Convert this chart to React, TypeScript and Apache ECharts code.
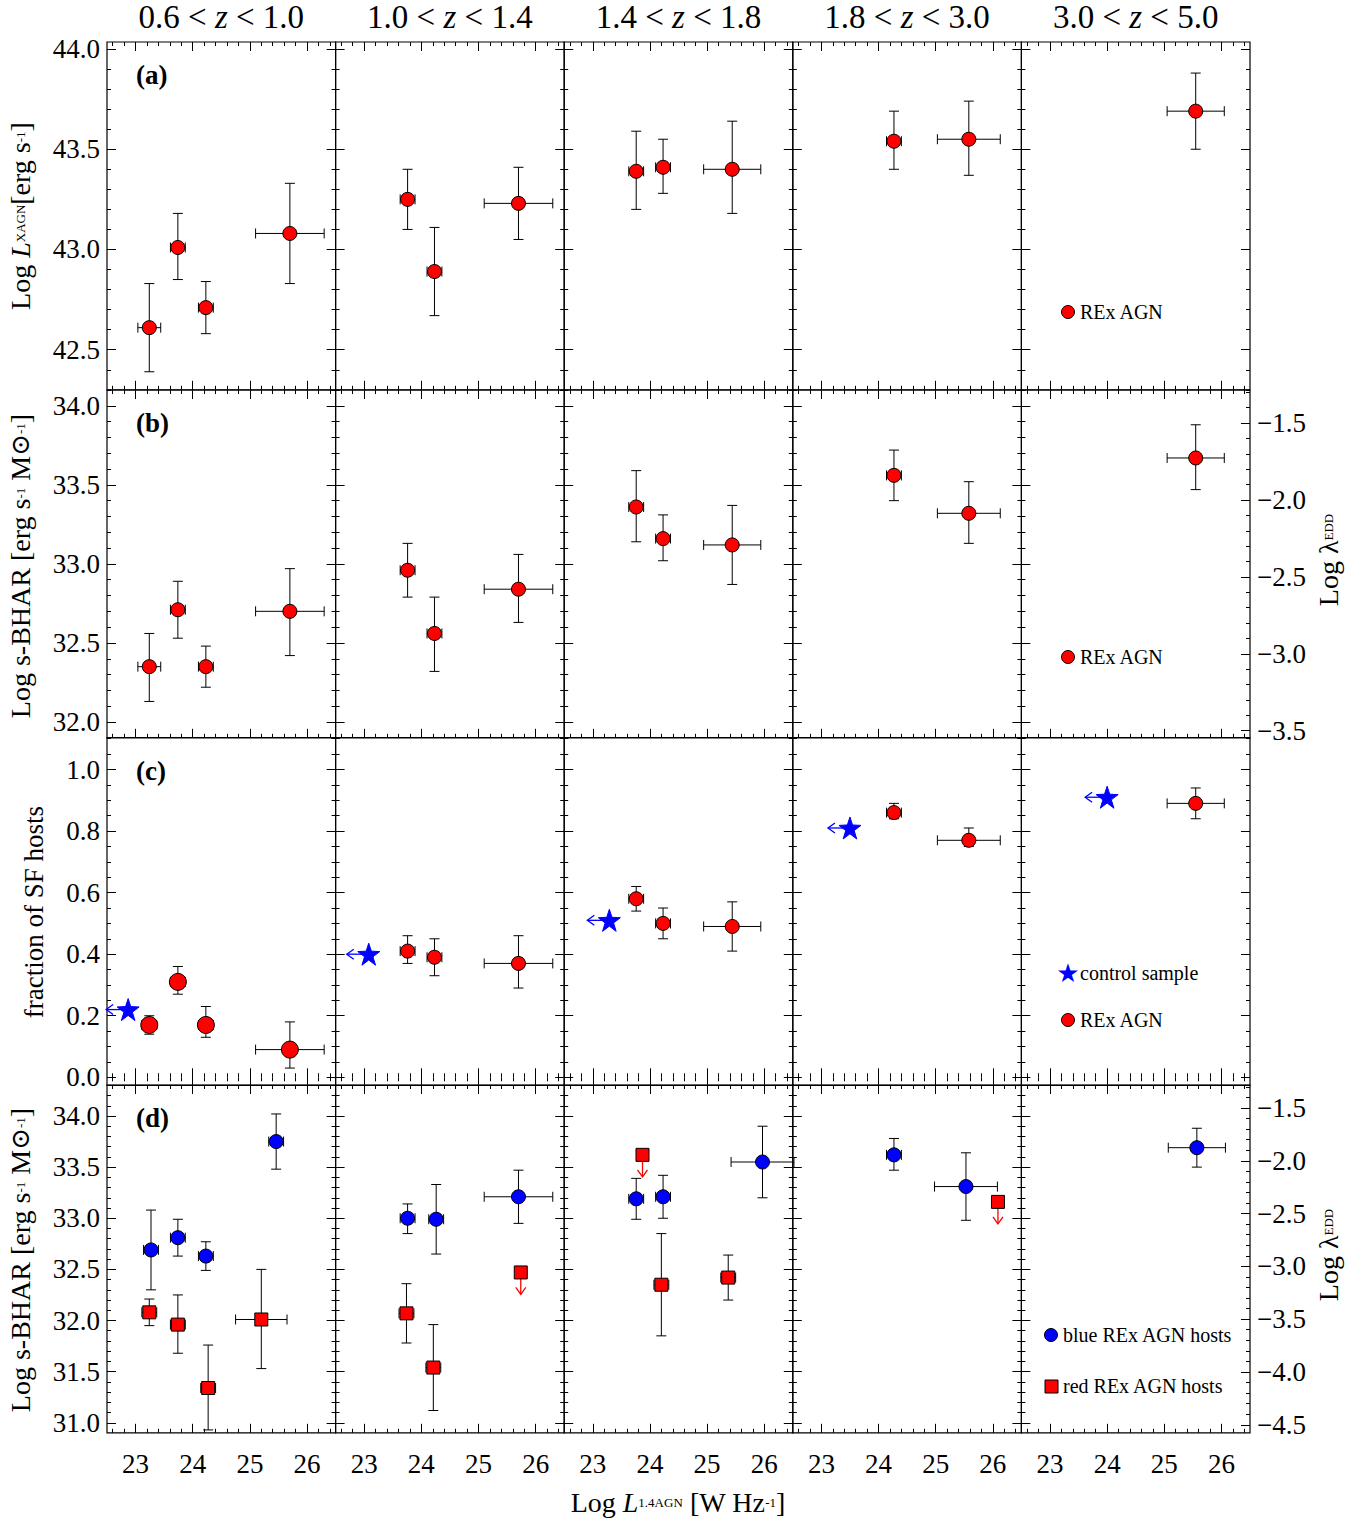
import React, { useEffect, useRef } from 'react';
import * as echarts from 'echarts';

// [col, x, y, xerr, ylo, yhi]
const rowARed = [
    [0, 23.24, 42.61, 0.2, 42.39, 42.83], [0, 23.74, 43.01, 0.13, 42.85, 43.18], [0, 24.23, 42.71, 0.13, 42.58, 42.84], [0, 25.7, 43.08, 0.6, 42.83, 43.33],
    [1, 23.76, 43.25, 0.13, 43.1, 43.4], [1, 24.23, 42.89, 0.13, 42.67, 43.11], [1, 25.7, 43.23, 0.6, 43.05, 43.41],
    [2, 23.76, 43.39, 0.13, 43.2, 43.59], [2, 24.23, 43.41, 0.13, 43.28, 43.55], [2, 25.44, 43.4, 0.5, 43.18, 43.64],
    [3, 24.27, 43.54, 0.13, 43.4, 43.69], [3, 25.58, 43.55, 0.55, 43.37, 43.74],
    [4, 25.55, 43.69, 0.5, 43.5, 43.88],
];
const rowBRed = [
    [0, 23.24, 32.35, 0.2, 32.13, 32.56], [0, 23.74, 32.71, 0.13, 32.53, 32.89], [0, 24.23, 32.35, 0.13, 32.22, 32.48], [0, 25.7, 32.7, 0.6, 32.42, 32.97],
    [1, 23.76, 32.96, 0.13, 32.79, 33.13], [1, 24.23, 32.56, 0.13, 32.32, 32.79], [1, 25.7, 32.84, 0.6, 32.63, 33.06],
    [2, 23.76, 33.36, 0.13, 33.14, 33.59], [2, 24.23, 33.16, 0.13, 33.02, 33.31], [2, 25.44, 33.12, 0.5, 32.87, 33.37],
    [3, 24.27, 33.56, 0.13, 33.4, 33.72], [3, 25.58, 33.32, 0.55, 33.13, 33.52],
    [4, 25.55, 33.67, 0.5, 33.47, 33.88],
];
const rowCRed = [
    [0, 23.24, 0.17, 0.13, 0.14, 0.2], [0, 23.74, 0.31, 0.13, 0.27, 0.36], [0, 24.23, 0.17, 0.13, 0.13, 0.23], [0, 25.7, 0.09, 0.6, 0.03, 0.18],
    [1, 23.76, 0.41, 0.13, 0.37, 0.46], [1, 24.23, 0.39, 0.13, 0.33, 0.45], [1, 25.7, 0.37, 0.6, 0.29, 0.46],
    [2, 23.76, 0.58, 0.13, 0.54, 0.62], [2, 24.23, 0.5, 0.13, 0.45, 0.55], [2, 25.44, 0.49, 0.5, 0.41, 0.57],
    [3, 24.27, 0.86, 0.13, 0.84, 0.89], [3, 25.58, 0.77, 0.55, 0.75, 0.81],
    [4, 25.55, 0.89, 0.5, 0.84, 0.94],
];
// [col, x, y]
const rowCStars = [[0, 22.87, 0.22], [1, 23.08, 0.4], [2, 23.29, 0.51], [3, 23.5, 0.81], [4, 24.0, 0.91]];
const rowDBlue = [
    [0, 23.27, 32.69, 0.13, 32.3, 33.08], [0, 23.74, 32.81, 0.13, 32.63, 32.99], [0, 24.23, 32.63, 0.13, 32.49, 32.77], [0, 25.46, 33.75, 0.13, 33.48, 34.02],
    [1, 23.76, 33.0, 0.13, 32.85, 33.14], [1, 24.26, 32.99, 0.13, 32.65, 33.33], [1, 25.7, 33.21, 0.6, 32.95, 33.47],
    [2, 23.76, 33.19, 0.13, 32.99, 33.39], [2, 24.23, 33.21, 0.13, 33.0, 33.42], [2, 25.97, 33.55, 0.55, 33.2, 33.9],
    [3, 24.27, 33.62, 0.13, 33.47, 33.78], [3, 25.53, 33.31, 0.55, 32.98, 33.64],
    [4, 25.57, 33.69, 0.5, 33.5, 33.88],
];
const rowDRed = [
    [0, 23.24, 32.08, 0.13, 31.95, 32.21], [0, 23.74, 31.96, 0.13, 31.68, 32.25], [0, 24.27, 31.34, 0.13, 30.93, 31.76], [0, 25.2, 32.01, 0.45, 31.53, 32.5],
    [1, 23.74, 32.07, 0.13, 31.78, 32.36], [1, 24.21, 31.54, 0.13, 31.12, 31.96],
    [2, 24.2, 32.35, 0.13, 31.85, 32.85], [2, 25.37, 32.42, 0.13, 32.2, 32.64],
];
// upper limits [col, x, y]
const rowDRedLimits = [[1, 25.74, 32.47], [2, 23.87, 33.62], [3, 26.09, 33.16]];

const colTitles = [['0.6', '1.0'], ['1.0', '1.4'], ['1.4', '1.8'], ['1.8', '3.0'], ['3.0', '5.0']];
const xTicks = [23, 24, 25, 26];
const rowRanges = [[42.3, 44.035], [31.9, 34.1], [-0.026, 1.104], [30.902, 34.303]];
const rowMajor = [[42.5, 43.0, 43.5, 44.0], [32.0, 32.5, 33.0, 33.5, 34.0], [0, 0.2, 0.4, 0.6, 0.8, 1.0], [31, 31.5, 32, 32.5, 33, 33.5, 34]];
const rowMinorStep = [0.1, 0.1, 0.05, 0.1];
const eddRanges = [null, [-3.546, -1.285], null, [-4.576, -1.282]];
const eddTicks = [null, [-3.5, -3.0, -2.5, -2.0, -1.5], null, [-4.5, -4.0, -3.5, -3.0, -2.5, -2.0, -1.5]];

const FONT = '"Liberation Serif", "DejaVu Serif", serif';
const STAR = 'path://M50,0 L61.8,36.2 L100,38.2 L69.1,61.8 L80.9,100 L50,76.4 L19.1,100 L30.9,61.8 L0,38.2 L38.2,36.2 Z';

const L0 = 107, CW = 228.6, RH = 347.8;
const tops = [42, 390, 737.5, 1085];

function range(a: number, b: number, s: number) {
    const out: number[] = [];
    for (let v = Math.ceil(a / s - 1e-9) * s; v <= b + 1e-9; v += s) out.push(Math.round(v * 1000) / 1000);
    return out;
}

export default function App() {
    const ref = useRef<HTMLDivElement | null>(null);

    useEffect(() => {
        document.body.style.margin = '0';
        if (!ref.current) return;
        const chart = echarts.init(ref.current, null, { renderer: 'svg' });

        const grid: any[] = [], xAxis: any[] = [], yAxis: any[] = [], series: any[] = [];
        const mainX: number[][] = [], mainY: number[][] = [];

        const lbl = { color: '#000', fontFamily: FONT, fontSize: 27 };

        for (let r = 0; r < 4; r++) {
            mainX.push([]); mainY.push([]);
            for (let c = 0; c < 5; c++) {
                const g = grid.length;
                grid.push({ left: L0 + CW * c, top: tops[r], width: CW, height: RH, show: true, borderColor: '#000', borderWidth: 1.2, backgroundColor: 'transparent' });
                const xMin = 22.5, xMax = 26.5;
                const xMinor = range(xMin, xMax, 0.2);
                ['bottom', 'top'].forEach((pos, i) => {
                    if (i === 0) mainX[r].push(xAxis.length);
                    xAxis.push({
                        type: 'value', gridIndex: g, min: xMin, max: xMax, position: pos,
                        axisLine: { show: false }, splitLine: { show: false },
                        axisTick: { inside: true, length: 9, customValues: xTicks, lineStyle: { color: '#000' } },
                        axisLabel: { show: i === 0 && r === 3, customValues: xTicks, ...lbl, margin: 18, formatter: (v: number) => String(v) },
                    });
                    xAxis.push({
                        type: 'value', gridIndex: g, min: xMin, max: xMax, position: pos,
                        axisLine: { show: false }, splitLine: { show: false },
                        axisTick: { inside: true, length: 4, customValues: xMinor, lineStyle: { color: '#000' } },
                        axisLabel: { show: false },
                    });
                });
                const [yMin, yMax] = rowRanges[r];
                const yMinor = range(yMin, yMax, rowMinorStep[r]);
                const fmt = (v: number) => v.toFixed(1);
                mainY[r].push(yAxis.length);
                yAxis.push({
                    type: 'value', gridIndex: g, min: yMin, max: yMax, position: 'left',
                    axisLine: { show: false }, splitLine: { show: false },
                    axisTick: { inside: true, length: 9, customValues: rowMajor[r], lineStyle: { color: '#000' } },
                    axisLabel: { show: c === 0, customValues: rowMajor[r], ...lbl, margin: 7, formatter: fmt },
                });
                yAxis.push({
                    type: 'value', gridIndex: g, min: yMin, max: yMax, position: 'left',
                    axisLine: { show: false }, splitLine: { show: false },
                    axisTick: { inside: true, length: 4, customValues: yMinor, lineStyle: { color: '#000' } },
                    axisLabel: { show: false },
                });
                const edd = c === 4 && eddRanges[r];
                const rMin = edd ? (edd as number[])[0] : yMin, rMax = edd ? (edd as number[])[1] : yMax;
                const rMajor = edd ? (eddTicks[r] as number[]) : rowMajor[r];
                const rMinor = edd ? range(rMin, rMax, 0.1) : yMinor;
                yAxis.push({
                    type: 'value', gridIndex: g, min: rMin, max: rMax, position: 'right',
                    axisLine: { show: false }, splitLine: { show: false },
                    axisTick: { inside: true, length: 9, customValues: rMajor, lineStyle: { color: '#000' } },
                    axisLabel: { show: !!edd, customValues: rMajor, ...lbl, margin: 7, formatter: (v: number) => v.toFixed(1).replace('-', '\u2212') },
                });
                yAxis.push({
                    type: 'value', gridIndex: g, min: rMin, max: rMax, position: 'right',
                    axisLine: { show: false }, splitLine: { show: false },
                    axisTick: { inside: true, length: 4, customValues: rMinor, lineStyle: { color: '#000' } },
                    axisLabel: { show: false },
                });
            }
        }

        const errBars = (r: number, c: number, pts: number[][]) => ({
            type: 'custom', xAxisIndex: mainX[r][c], yAxisIndex: mainY[r][c], clip: false, z: 2,
            data: pts.filter(p => p[0] === c).map(p => p.slice(1)),
            encode: { x: 0, y: 1 },
            renderItem: (_p: any, api: any) => {
                const x = api.value(0), y = api.value(1), xe = api.value(2), lo = api.value(3), hi = api.value(4);
                const l = api.coord([x - xe, y]), rt = api.coord([x + xe, y]);
                const b = api.coord([x, lo]), t = api.coord([x, hi]);
                const st = { stroke: '#000', lineWidth: 1 };
                const ln = (x1: number, y1: number, x2: number, y2: number) => ({ type: 'line', shape: { x1, y1, x2, y2 }, style: st });
                return {
                    type: 'group', children: [
                        ln(l[0], l[1], rt[0], rt[1]),
                        ln(l[0], l[1] - 5, l[0], l[1] + 5),
                        ln(rt[0], rt[1] - 5, rt[0], rt[1] + 5),
                        ln(b[0], b[1], t[0], t[1]),
                        ln(b[0] - 5, b[1], b[0] + 5, b[1]),
                        ln(t[0] - 5, t[1], t[0] + 5, t[1]),
                    ],
                };
            },
        });
        const markers = (r: number, c: number, pts: number[][], color: string, symbol: string, size: number) => ({
            type: 'scatter', xAxisIndex: mainX[r][c], yAxisIndex: mainY[r][c], z: 3, symbol, symbolSize: size,
            itemStyle: { color, borderColor: symbol === STAR ? color : '#000', borderWidth: 1, opacity: 1 },
            data: pts.filter(p => p[0] === c).map(p => [p[1], p[2]]),
        });
        const arrows = (r: number, c: number, pts: number[][], color: string, dir: 'left' | 'down') => ({
            type: 'custom', xAxisIndex: mainX[r][c], yAxisIndex: mainY[r][c], clip: false, z: 2,
            data: pts.filter(p => p[0] === c).map(p => [p[1], p[2]]),
            encode: { x: 0, y: 1 },
            renderItem: (_p: any, api: any) => {
                const p = api.coord([api.value(0), api.value(1)]);
                const st = { stroke: color, lineWidth: 1.3, fill: 'none' };
                if (dir === 'down') {
                    const ey = p[1] + 22;
                    return { type: 'group', children: [
                        { type: 'line', shape: { x1: p[0], y1: p[1], x2: p[0], y2: ey }, style: st },
                        { type: 'polyline', shape: { points: [[p[0] - 5, ey - 7], [p[0], ey], [p[0] + 5, ey - 7]] }, style: st },
                    ] };
                }
                const ex = p[0] - 22;
                return { type: 'group', children: [
                    { type: 'line', shape: { x1: p[0], y1: p[1], x2: ex, y2: p[1] }, style: st },
                    { type: 'polyline', shape: { points: [[ex + 7, p[1] - 5], [ex, p[1]], [ex + 7, p[1] + 5]] }, style: st },
                ] };
            },
        });

        for (let c = 0; c < 5; c++) {
            series.push(errBars(0, c, rowARed), markers(0, c, rowARed, '#ff0000', 'circle', 14));
            series.push(errBars(1, c, rowBRed), markers(1, c, rowBRed, '#ff0000', 'circle', 14));
            series.push(errBars(2, c, rowCRed), markers(2, c, rowCRed, '#ff0000', 'circle', c === 0 ? 17 : 14));
            series.push(arrows(2, c, rowCStars, '#0000ff', 'left'), markers(2, c, rowCStars, '#0000ff', STAR, 22));
            series.push(errBars(3, c, rowDBlue), markers(3, c, rowDBlue, '#0000ff', 'circle', 14));
            series.push(errBars(3, c, rowDRed), markers(3, c, rowDRed, '#ff0000', 'rect', 13));
            series.push(arrows(3, c, rowDRedLimits, '#ff0000', 'down'), markers(3, c, rowDRedLimits, '#ff0000', 'rect', 13));
        }

        const txt = (x: number, y: number, text: string, extra: any = {}) => ({
            type: 'text', x, y, style: { text, fontFamily: FONT, fontSize: 20, fill: '#000', textVerticalAlign: 'middle', ...extra },
        });
        const rich = {
            i: { fontFamily: FONT, fontSize: 33, fontStyle: 'italic' },
            n: { fontFamily: FONT, fontSize: 28 },
            ni: { fontFamily: FONT, fontSize: 28, fontStyle: 'italic' },
            ns: { fontFamily: FONT, fontSize: 13 },
            g: { fontFamily: '"DejaVu Serif", serif', fontSize: 26 },
        };
        const graphic: any[] = [];
        colTitles.forEach((t, c) => {
            graphic.push(txt(L0 + CW * (c + 0.5), 17, `${t[0]} < {i|z} < ${t[1]}`, { fontSize: 33, textAlign: 'center', rich }));
        });
        ['(a)', '(b)', '(c)', '(d)'].forEach((s, r) => {
            graphic.push(txt(136, tops[r] + 33, s, { fontSize: 27, fontWeight: 'bold' }));
        });
        const rot = Math.PI / 2;
        graphic.push({ ...txt(20, 216, '{n|Log }{ni|L}{ns|X}{ns|AGN}{n|[erg s}{ns|-1}{n|]}', { textAlign: 'center', rich }), rotation: rot });
        graphic.push({ ...txt(20, 566, '{n|Log s-BHAR [erg s}{ns|-1}{n| M}{g|⊙}{ns|-1}{n|]}', { textAlign: 'center', rich }), rotation: rot });
        graphic.push({ ...txt(34, 912, 'fraction of SF hosts', { fontSize: 27, textAlign: 'center' }), rotation: rot });
        graphic.push({ ...txt(20, 1260, '{n|Log s-BHAR [erg s}{ns|-1}{n| M}{g|⊙}{ns|-1}{n|]}', { textAlign: 'center', rich }), rotation: rot });
        graphic.push({ ...txt(1328, 560, '{n|Log λ}{ns|EDD}', { textAlign: 'center', rich }), rotation: rot });
        graphic.push({ ...txt(1328, 1255, '{n|Log λ}{ns|EDD}', { textAlign: 'center', rich }), rotation: rot });
        graphic.push(txt(678, 1502, '{n|Log }{ni|L}{ns|1.4}{ns|AGN}{n| [W Hz}{ns|-1}{n|]}', { textAlign: 'center', rich }));

        const dot = (x: number, y: number, color: string) => ({ type: 'circle', shape: { cx: x, cy: y, r: 6.5 }, style: { fill: color, stroke: '#000', lineWidth: 1 } });
        graphic.push(dot(1068, 312, '#ff0000'), txt(1080, 312, 'REx AGN'));
        graphic.push(dot(1068, 657, '#ff0000'), txt(1080, 657, 'REx AGN'));
        graphic.push(txt(1068, 973, '★', { fontSize: 26, fill: '#0000ff', textAlign: 'center', fontFamily: '"DejaVu Sans"' }), txt(1080, 973, 'control sample'));
        graphic.push(dot(1068, 1020, '#ff0000'), txt(1080, 1020, 'REx AGN'));
        graphic.push(dot(1051, 1335, '#0000ff'), txt(1063, 1335, 'blue REx AGN hosts'));
        graphic.push({ type: 'rect', shape: { x: 1045, y: 1380, width: 13, height: 13 }, style: { fill: '#ff0000', stroke: '#000', lineWidth: 1 } }, txt(1063, 1386, 'red REx AGN hosts'));

        chart.setOption({ animation: false, backgroundColor: '#fff', grid, xAxis, yAxis, series, graphic });
        return () => chart.dispose();
    }, []);

    return <div ref={ref} style={{ width: 1368, height: 1522 }} />;
}
